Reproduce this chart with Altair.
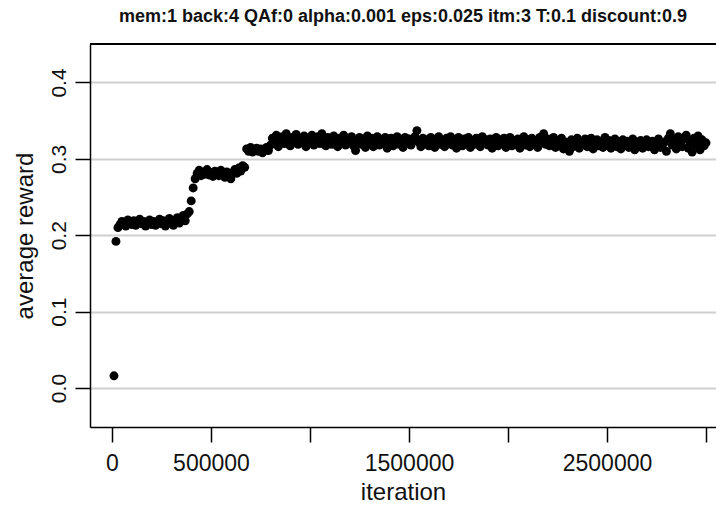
import altair as alt
import pandas as pd

TITLE = "mem:1 back:4 QAf:0 alpha:0.001 eps:0.025 itm:3 T:0.1 discount:0.9"

iteration = [
    10000, 20000, 30000, 40000, 50000, 60000, 70000, 80000, 90000, 100000,
    110000, 120000, 130000, 140000, 150000, 160000, 170000, 180000, 190000, 200000,
    210000, 220000, 230000, 240000, 250000, 260000, 270000, 280000, 290000, 300000,
    310000, 320000, 330000, 340000, 350000, 360000, 370000, 380000, 390000, 400000,
    410000, 420000, 430000, 440000, 450000, 460000, 470000, 480000, 490000, 500000,
    510000, 520000, 530000, 540000, 550000, 560000, 570000, 580000, 590000, 600000,
    610000, 620000, 630000, 640000, 650000, 660000, 670000, 680000, 690000, 700000,
    710000, 720000, 730000, 740000, 750000, 760000, 770000, 780000, 790000, 800000,
    810000, 820000, 830000, 840000, 850000, 860000, 870000, 880000, 890000, 900000,
    910000, 920000, 930000, 940000, 950000, 960000, 970000, 980000, 990000, 1000000,
    1010000, 1020000, 1030000, 1040000, 1050000, 1060000, 1070000, 1080000, 1090000, 1100000,
    1110000, 1120000, 1130000, 1140000, 1150000, 1160000, 1170000, 1180000, 1190000, 1200000,
    1210000, 1220000, 1230000, 1240000, 1250000, 1260000, 1270000, 1280000, 1290000, 1300000,
    1310000, 1320000, 1330000, 1340000, 1350000, 1360000, 1370000, 1380000, 1390000, 1400000,
    1410000, 1420000, 1430000, 1440000, 1450000, 1460000, 1470000, 1480000, 1490000, 1500000,
    1510000, 1520000, 1530000, 1540000, 1550000, 1560000, 1570000, 1580000, 1590000, 1600000,
    1610000, 1620000, 1630000, 1640000, 1650000, 1660000, 1670000, 1680000, 1690000, 1700000,
    1710000, 1720000, 1730000, 1740000, 1750000, 1760000, 1770000, 1780000, 1790000, 1800000,
    1810000, 1820000, 1830000, 1840000, 1850000, 1860000, 1870000, 1880000, 1890000, 1900000,
    1910000, 1920000, 1930000, 1940000, 1950000, 1960000, 1970000, 1980000, 1990000, 2000000,
    2010000, 2020000, 2030000, 2040000, 2050000, 2060000, 2070000, 2080000, 2090000, 2100000,
    2110000, 2120000, 2130000, 2140000, 2150000, 2160000, 2170000, 2180000, 2190000, 2200000,
    2210000, 2220000, 2230000, 2240000, 2250000, 2260000, 2270000, 2280000, 2290000, 2300000,
    2310000, 2320000, 2330000, 2340000, 2350000, 2360000, 2370000, 2380000, 2390000, 2400000,
    2410000, 2420000, 2430000, 2440000, 2450000, 2460000, 2470000, 2480000, 2490000, 2500000,
    2510000, 2520000, 2530000, 2540000, 2550000, 2560000, 2570000, 2580000, 2590000, 2600000,
    2610000, 2620000, 2630000, 2640000, 2650000, 2660000, 2670000, 2680000, 2690000, 2700000,
    2710000, 2720000, 2730000, 2740000, 2750000, 2760000, 2770000, 2780000, 2790000, 2800000,
    2810000, 2820000, 2830000, 2840000, 2850000, 2860000, 2870000, 2880000, 2890000, 2900000,
    2910000, 2920000, 2930000, 2940000, 2950000, 2960000, 2970000, 2980000, 2990000, 3000000,
]

reward = [
    # 10k - 20k: start
    0.016, 0.192,
    # 30k - 390k: first plateau
    0.210, 0.214, 0.218, 0.216, 0.212, 0.220, 0.217, 0.214, 0.219, 0.213,
    0.216, 0.221, 0.215, 0.218, 0.212, 0.217, 0.220, 0.214, 0.218, 0.213,
    0.216, 0.221, 0.215, 0.219, 0.212, 0.217, 0.222, 0.216, 0.213, 0.219,
    0.223, 0.216, 0.221, 0.226, 0.219, 0.228, 0.231,
    # 400k - 410k: jump
    0.245, 0.262,
    # 420k - 670k: second plateau
    0.274, 0.281, 0.285, 0.278, 0.283, 0.280, 0.286, 0.279, 0.282, 0.277,
    0.284, 0.280, 0.278, 0.285, 0.281, 0.276, 0.283, 0.279, 0.274, 0.282,
    0.286, 0.281, 0.288, 0.284, 0.291, 0.289,
    # 680k - 790k: third step
    0.313, 0.310, 0.315, 0.309, 0.312, 0.314, 0.310, 0.313, 0.308, 0.312,
    0.315, 0.311,
    # 800k - 3000k: final plateau
    0.318, 0.327, 0.322, 0.331, 0.316, 0.325, 0.329, 0.320, 0.333, 0.323,
    0.317, 0.328, 0.324, 0.332, 0.319, 0.326, 0.321, 0.330, 0.316, 0.327,
    0.323, 0.331, 0.318, 0.326, 0.329, 0.320, 0.333, 0.322, 0.317, 0.328,
    0.325, 0.319, 0.330, 0.323, 0.316, 0.327, 0.321, 0.331, 0.318, 0.326,
    0.322, 0.329, 0.317, 0.311, 0.324, 0.328, 0.319, 0.326, 0.315, 0.330,
    0.321, 0.327, 0.316, 0.324, 0.329, 0.318, 0.325, 0.320, 0.328, 0.314,
    0.323, 0.327, 0.317, 0.325, 0.329, 0.319, 0.324, 0.315, 0.328, 0.321,
    0.326, 0.318, 0.323, 0.329, 0.337, 0.322, 0.316, 0.327, 0.320, 0.325,
    0.317, 0.328, 0.322, 0.315, 0.326, 0.329, 0.319, 0.324, 0.316, 0.327,
    0.321, 0.329, 0.318, 0.325, 0.314, 0.328, 0.322, 0.317, 0.326, 0.320,
    0.328, 0.315, 0.324, 0.319, 0.327, 0.322, 0.316, 0.329, 0.321, 0.325,
    0.318, 0.326, 0.314, 0.323, 0.328, 0.317, 0.325, 0.320, 0.327, 0.315,
    0.322, 0.328, 0.317, 0.324, 0.319, 0.326, 0.314, 0.323, 0.329, 0.318,
    0.325, 0.316, 0.327, 0.320, 0.324, 0.315, 0.328, 0.322, 0.333, 0.319,
    0.326, 0.317, 0.323, 0.328, 0.315, 0.324, 0.320, 0.327, 0.313, 0.322,
    0.318, 0.310, 0.325, 0.316, 0.321, 0.327, 0.314, 0.323, 0.319, 0.326,
    0.316, 0.322, 0.327, 0.313, 0.320, 0.325, 0.317, 0.323, 0.315, 0.328,
    0.319, 0.324, 0.314, 0.321, 0.326, 0.316, 0.322, 0.313, 0.325, 0.318,
    0.323, 0.315, 0.320, 0.326, 0.312, 0.322, 0.317, 0.324, 0.314, 0.321,
    0.325, 0.316, 0.319, 0.323, 0.312, 0.320, 0.326, 0.315, 0.318, 0.322,
    0.310, 0.327, 0.333, 0.318, 0.324, 0.313, 0.329, 0.320, 0.316, 0.326,
    0.331, 0.314, 0.322, 0.309, 0.327, 0.318, 0.330, 0.312, 0.325, 0.317,
    0.321,
]

x_ticks = [0, 500000, 1000000, 1500000, 2000000, 2500000, 3000000]
x_labels_shown = [0, 500000, 1500000, 2500000]
y_ticks = [0.0, 0.1, 0.2, 0.3, 0.4]

n = min(len(iteration), len(reward))
df = pd.DataFrame({"iteration": iteration[:n], "reward": reward[:n]})

FONT = "Liberation Sans"
label_expr = "indexof([" + ",".join(str(v) for v in x_labels_shown) + "], datum.value) >= 0 ? datum.value : ''"

base = alt.Chart(df)

points = base.mark_circle(size=80, color="black", opacity=1).encode(
    x=alt.X(
        "iteration:Q",
        scale=alt.Scale(domain=[-111111, 3050505], nice=False, zero=False),
        axis=alt.Axis(
            values=x_ticks,
            labelExpr=label_expr,
            title="iteration",
            grid=False,
            domainColor="black",
            domainWidth=1.5,
            tickColor="black",
            tickWidth=1.5,
            tickSize=15,
            labelFontSize=23,
            labelFont=FONT,
            labelColor="#111111",
            labelPadding=10,
            labelFlush=False,
            labelOverlap=False,
            titleFont=FONT,
            titleFontSize=24,
            titleFontWeight="normal",
            titleColor="#111111",
            titlePadding=5,
        ),
    ),
    y=alt.Y(
        "reward:Q",
        scale=alt.Scale(domain=[-0.051, 0.4504], nice=False, zero=False),
        axis=alt.Axis(
            values=y_ticks,
            format=".1f",
            title="average reward",
            grid=True,
            gridColor="#cfcfcf",
            gridWidth=2,
            domainColor="black",
            domainWidth=1.5,
            tickColor="black",
            tickWidth=1.5,
            tickSize=15,
            labelAngle=270,
            labelAlign="center",
            labelBaseline="bottom",
            labelFontSize=21,
            labelFont=FONT,
            labelColor="#111111",
            labelPadding=6,
            labelOverlap=False,
            titleFont=FONT,
            titleFontSize=24,
            titleFontWeight="normal",
            titleColor="#111111",
            titlePadding=11,
        ),
    ),
)

top_border = base.mark_rule(color="black", strokeWidth=2).encode(
    x=alt.value(0), x2=alt.value(626), y=alt.value(0)
)

chart = (
    alt.layer(points, top_border)
    .properties(
        width=626,
        height=383,
        title=alt.TitleParams(
            TITLE,
            font=FONT,
            fontSize=18,
            fontWeight="bold",
            color="#111111",
            anchor="middle",
            offset=17,
        ),
        autosize=alt.AutoSizeParams(type="none"),
        padding={"left": 90, "top": 44, "right": 0, "bottom": 80},
    )
    .configure_view(stroke=None)
    .configure(background="white")
)

chart.save("out.html", embed_options={"renderer": "svg", "actions": False})
